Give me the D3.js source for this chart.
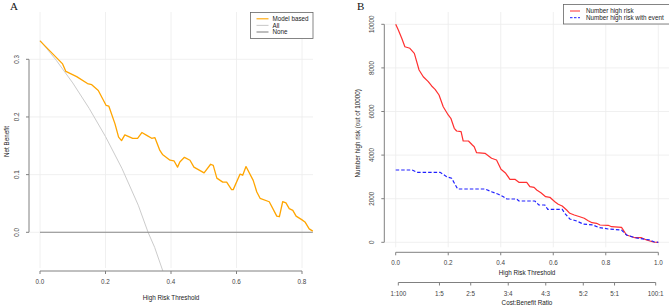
<!DOCTYPE html>
<html>
<head>
<meta charset="utf-8">
<script src="https://cdn.jsdelivr.net/npm/d3@7"></script>
<style>
  body { margin: 0; background: #fff; }
  svg { display: block; font-family: "Liberation Sans", Arial, sans-serif; }
</style>
</head>
<body>
<div id="chart"></div>
<script>
// panel A - decision curve (net benefit)
const thrModel = [0, 0.069, 0.079, 0.112, 0.145, 0.158, 0.178, 0.202, 0.21, 0.229, 0.240, 0.249, 0.259, 0.283, 0.298, 0.311, 0.326, 0.341, 0.351, 0.366, 0.374, 0.397, 0.409, 0.420, 0.427, 0.441, 0.458, 0.470, 0.501, 0.521, 0.529, 0.540, 0.558, 0.570, 0.585, 0.590, 0.611, 0.619, 0.629, 0.651, 0.662, 0.672, 0.700, 0.723, 0.731, 0.741, 0.751, 0.761, 0.772, 0.782, 0.799, 0.809, 0.822, 0.833];
const nbModel = [0.332, 0.292, 0.279, 0.270, 0.258, 0.256, 0.246, 0.220, 0.219, 0.188, 0.165, 0.159, 0.169, 0.163, 0.163, 0.173, 0.168, 0.163, 0.164, 0.142, 0.135, 0.125, 0.124, 0.113, 0.122, 0.130, 0.125, 0.113, 0.103, 0.118, 0.116, 0.094, 0.087, 0.087, 0.074, 0.074, 0.101, 0.099, 0.114, 0.090, 0.070, 0.059, 0.053, 0.028, 0.027, 0.053, 0.051, 0.041, 0.038, 0.028, 0.022, 0.018, 0.006, 0.002];
const thrAll = [0, 0.05, 0.1, 0.15, 0.2, 0.25, 0.3, 0.33, 0.35, 0.375];
const nbAll = [0.333, 0.298, 0.259, 0.215, 0.166, 0.111, 0.047, 0.0, -0.026, -0.067];
const thrNone = [0, 0.833];
const nbNone = [0, 0];
const ticksA_x = [0, 0.2, 0.4, 0.6, 0.8];
const ticksA_y = [0, 0.1, 0.2, 0.3];

// panel B - clinical impact
const thrHigh = [0, 0.01, 0.023, 0.035, 0.054, 0.071, 0.089, 0.105, 0.124, 0.137, 0.150, 0.165, 0.181, 0.200, 0.21, 0.223, 0.232, 0.249, 0.257, 0.277, 0.292, 0.299, 0.308, 0.340, 0.365, 0.384, 0.401, 0.419, 0.435, 0.454, 0.469, 0.499, 0.511, 0.527, 0.537, 0.553, 0.571, 0.587, 0.606, 0.619, 0.634, 0.651, 0.663, 0.680, 0.701, 0.718, 0.733, 0.748, 0.765, 0.778, 0.809, 0.822, 0.860, 0.879, 0.911, 0.936, 0.955, 0.981, 1.0];
const nHigh = [10000, 9739, 9358, 8972, 8899, 8670, 7904, 7596, 7367, 7170, 7018, 6757, 6220, 5840, 5688, 5229, 5105, 5073, 4647, 4647, 4463, 4385, 4110, 4083, 3853, 3775, 3349, 3165, 2890, 2890, 2752, 2752, 2550, 2523, 2399, 2275, 2092, 2064, 1862, 1743, 1665, 1482, 1330, 1252, 1174, 1101, 991, 899, 872, 794, 780, 716, 688, 335, 211, 211, 106, 14, 0];
const thrEvent = [0, 0.063, 0.080, 0.169, 0.194, 0.213, 0.236, 0.340, 0.365, 0.391, 0.410, 0.423, 0.461, 0.469, 0.530, 0.545, 0.568, 0.579, 0.634, 0.644, 0.663, 0.689, 0.714, 0.751, 0.771, 0.809, 0.860, 0.879, 0.911, 0.949, 0.968, 0.985, 1.0];
const nEvent = [3317, 3317, 3211, 3211, 3010, 2936, 2445, 2445, 2321, 2202, 2092, 1986, 1986, 1894, 1894, 1711, 1711, 1514, 1514, 1330, 1069, 977, 839, 794, 688, 610, 564, 335, 211, 138, 106, 14, 0];
const ticksB_x = [0, 0.2, 0.4, 0.6, 0.8, 1.0];
const ticksB_y = [0, 2000, 4000, 6000, 8000, 10000];
const costBenefit = ["1:100", "1:5", "2:5", "3:4", "4:3", "5:2", "5:1", "100:1"];

const W = 669, H = 305;
const svg = d3.select("#chart").append("svg").attr("width", W).attr("height", H);

const gridCol = "#ececec", axisCol = "#808080", tickTxt = "#444", titleTxt = "#222";
const fs = 6.3;

function xAxisR(g, scale, ticks, y, labels, labelDy) {
    // R style axis: line only from first to last tick
    g.append("line")
        .attr("x1", scale(ticks[0])).attr("x2", scale(ticks[ticks.length - 1]))
        .attr("y1", y).attr("y2", y)
        .attr("stroke", axisCol).attr("stroke-width", 1);
    ticks.forEach((t, i) => {
        g.append("line")
            .attr("x1", scale(t)).attr("x2", scale(t))
            .attr("y1", y).attr("y2", y + 3)
            .attr("stroke", axisCol).attr("stroke-width", 1);
        g.append("text")
            .attr("x", scale(t)).attr("y", y + labelDy)
            .attr("text-anchor", "middle")
            .style("font-size", fs + "px").style("fill", tickTxt)
            .text(labels ? labels[i] : d3.format(".1f")(t));
    });
}

function yAxisR(g, scale, ticks, x, fmt) {
    g.append("line")
        .attr("x1", x).attr("x2", x)
        .attr("y1", scale(ticks[0])).attr("y2", scale(ticks[ticks.length - 1]))
        .attr("stroke", axisCol).attr("stroke-width", 1);
    ticks.forEach(t => {
        g.append("line")
            .attr("x1", x - 3).attr("x2", x)
            .attr("y1", scale(t)).attr("y2", scale(t))
            .attr("stroke", axisCol).attr("stroke-width", 1);
        g.append("text")
            .attr("transform", `translate(${x - 10.5}, ${scale(t)}) rotate(-90)`)
            .attr("text-anchor", "middle")
            .style("font-size", fs + "px").style("fill", tickTxt)
            .text(fmt(t));
    });
}

// ---------- Panel A ----------
const xA = d3.scaleLinear().domain([0, 0.8]).range([40, 302]);
const yA = d3.scaleLinear().domain([0, 0.3]).range([232.3, 59.3]);
const plotA = {x0: 29, x1: 313, y0: 12, y1: 271};
const gA = svg.append("g");

gA.selectAll(".vgridA").data(ticksA_x).enter().append("line")
    .attr("x1", d => xA(d)).attr("x2", d => xA(d))
    .attr("y1", plotA.y0).attr("y2", plotA.y1 - 3)
    .attr("stroke", gridCol).attr("stroke-width", 0.8);
gA.selectAll(".hgridA").data(ticksA_y).enter().append("line")
    .attr("x1", plotA.x0 + 1).attr("x2", plotA.x1)
    .attr("y1", d => yA(d)).attr("y2", d => yA(d))
    .attr("stroke", gridCol).attr("stroke-width", 0.8);

const lineA = (xs, ys) => d3.line().x((d, i) => xA(xs[i])).y((d, i) => yA(ys[i]))(xs);

gA.append("path").attr("d", lineA(thrAll, nbAll))
    .attr("fill", "none").attr("stroke", "#cccccc").attr("stroke-width", 1);
gA.append("path").attr("d", lineA(thrNone, nbNone))
    .attr("fill", "none").attr("stroke", "#888888").attr("stroke-width", 1.1);
gA.append("path").attr("d", lineA(thrModel, nbModel))
    .attr("fill", "none").attr("stroke", "#FFA500").attr("stroke-width", 1.3)
    .attr("stroke-linejoin", "round");

xAxisR(gA, xA, ticksA_x, plotA.y1, null, 13);
yAxisR(gA, yA, ticksA_y, plotA.x0, d3.format(".1f"));

gA.append("text").attr("x", (plotA.x0 + plotA.x1) / 2).attr("y", 300)
    .attr("text-anchor", "middle").style("font-size", fs + "px").style("fill", titleTxt)
    .text("High Risk Threshold");
gA.append("text").attr("transform", `translate(9, ${(plotA.y0 + plotA.y1) / 2}) rotate(-90)`)
    .attr("text-anchor", "middle").style("font-size", fs + "px").style("fill", titleTxt)
    .text("Net Benefit");
gA.append("text").attr("x", 10).attr("y", 10)
    .style("font-family", "'Liberation Serif', serif").style("font-size", "11px").style("fill", "#111")
    .text("A");

// legend A
const legA = gA.append("g");
legA.append("rect").attr("x", 250.5).attr("y", 12.5).attr("width", 62.5).attr("height", 26)
    .attr("fill", "#fff").attr("stroke", "#666").attr("stroke-width", 0.8);
[["Model based", "#FFA500"], ["All", "#cccccc"], ["None", "#888888"]].forEach((d, i) => {
    const y = 18.8 + i * 6.6;
    legA.append("line").attr("x1", 256.5).attr("x2", 268.5).attr("y1", y).attr("y2", y)
        .attr("stroke", d[1]).attr("stroke-width", 1.1);
    legA.append("text").attr("x", 272.5).attr("y", y + 2.2)
        .style("font-size", fs + "px").style("fill", titleTxt).text(d[0]);
});

// ---------- Panel B ----------
const xB = d3.scaleLinear().domain([0, 1]).range([395.7, 658.3]);
const yB = d3.scaleLinear().domain([0, 10000]).range([242.3, 24.3]);
const plotB = {x0: 384.3, x1: 669, y0: 12, y1: 252.3};
const gB = svg.append("g");

gB.selectAll(".vgridB").data(ticksB_x).enter().append("line")
    .attr("x1", d => xB(d)).attr("x2", d => xB(d))
    .attr("y1", plotB.y0).attr("y2", plotB.y1 - 5)
    .attr("stroke", gridCol).attr("stroke-width", 0.8);
gB.selectAll(".hgridB").data(ticksB_y).enter().append("line")
    .attr("x1", plotB.x0 + 1).attr("x2", plotB.x1)
    .attr("y1", d => yB(d)).attr("y2", d => yB(d))
    .attr("stroke", gridCol).attr("stroke-width", 0.8);

const lineB = (xs, ys) => d3.line().x((d, i) => xB(xs[i])).y((d, i) => yB(ys[i]))(xs);

gB.append("path").attr("d", lineB(thrHigh, nHigh))
    .attr("fill", "none").attr("stroke", "#ff3030").attr("stroke-width", 1.2)
    .attr("stroke-linejoin", "round");
gB.append("path").attr("d", lineB(thrEvent, nEvent))
    .attr("fill", "none").attr("stroke", "#2020ff").attr("stroke-width", 1.2)
    .attr("stroke-dasharray", "3.5,2");

xAxisR(gB, xB, ticksB_x, plotB.y1, null, 13);
yAxisR(gB, yB, ticksB_y, plotB.x0, d => d3.format("d")(d));

gB.append("text").attr("x", xB(0.5)).attr("y", 275)
    .attr("text-anchor", "middle").style("font-size", fs + "px").style("fill", titleTxt)
    .text("High Risk Threshold");

// cost:benefit axis
const cbPos = costBenefit.map(s => { const p = s.split(":").map(Number); return p[0] / (p[0] + p[1]); });
const gCB = gB.append("g");
gCB.append("line")
    .attr("x1", xB(cbPos[0])).attr("x2", xB(cbPos[cbPos.length - 1]))
    .attr("y1", 282.5).attr("y2", 282.5)
    .attr("stroke", axisCol).attr("stroke-width", 1);
cbPos.forEach((p, i) => {
    gCB.append("line").attr("x1", xB(p)).attr("x2", xB(p)).attr("y1", 282.5).attr("y2", 285.5)
        .attr("stroke", axisCol).attr("stroke-width", 1);
    gCB.append("text").attr("x", xB(p)).attr("y", 296)
        .attr("text-anchor", "middle").style("font-size", fs + "px").style("fill", tickTxt)
        .text(costBenefit[i]);
});
gB.append("text").attr("x", xB(0.5)).attr("y", 304.5)
    .attr("text-anchor", "middle").style("font-size", fs + "px").style("fill", titleTxt)
    .text("Cost:Benefit Ratio");

gB.append("text").attr("transform", `translate(360, ${(yB(0) + yB(10000)) / 2}) rotate(-90)`)
    .attr("text-anchor", "middle").style("font-size", fs + "px").style("fill", titleTxt)
    .text("Number high risk (out of 10000)");
gB.append("text").attr("x", 357).attr("y", 10)
    .style("font-family", "'Liberation Serif', serif").style("font-size", "11px").style("fill", "#111")
    .text("B");

// legend B
const legB = gB.append("g");
legB.append("rect").attr("x", 563.5).attr("y", 4.5).attr("width", 110).attr("height", 19.5)
    .attr("fill", "#fff").attr("stroke", "#666").attr("stroke-width", 0.8);
[["Number high risk", "#ff3030", null], ["Number high risk with event", "#2020ff", "2.5,1.5"]].forEach((d, i) => {
    const y = 11 + i * 6.7;
    const l = legB.append("line").attr("x1", 570).attr("x2", 580).attr("y1", y).attr("y2", y)
        .attr("stroke", d[1]).attr("stroke-width", 1);
    if (d[2]) l.attr("stroke-dasharray", d[2]);
    legB.append("text").attr("x", 586).attr("y", y + 2.2)
        .style("font-size", fs + "px").style("fill", titleTxt).text(d[0]);
});
</script>
</body>
</html>
